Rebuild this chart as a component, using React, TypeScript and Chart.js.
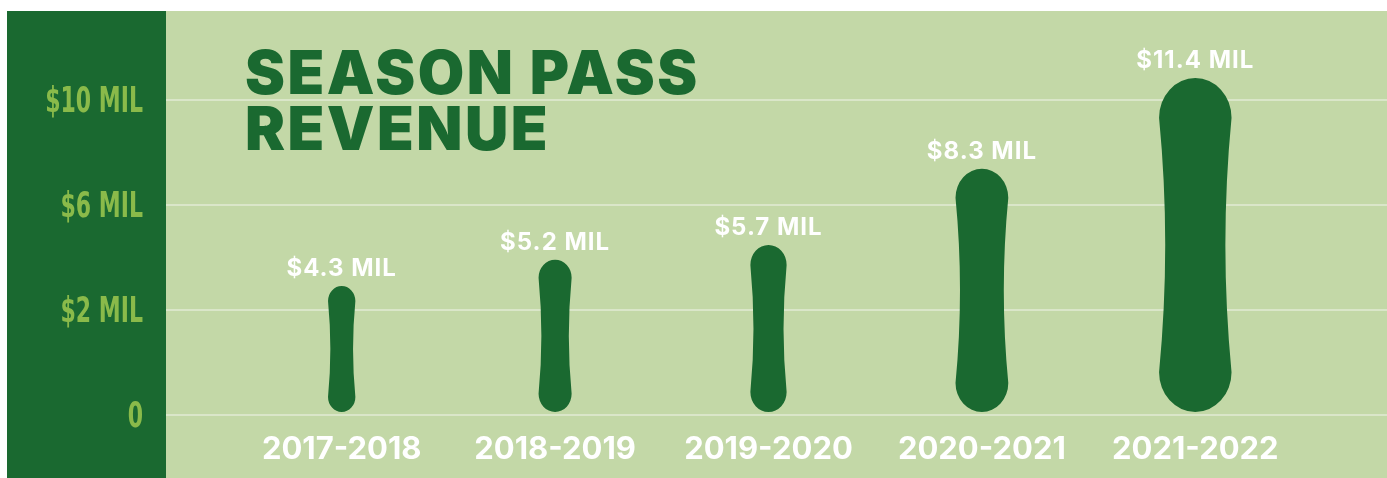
import React, { useEffect, useRef } from "react";
import { Chart, registerables } from "chart.js";

Chart.register(...registerables);

const SEASONS = ["2017-2018", "2018-2019", "2019-2020", "2020-2021", "2021-2022"];
const REVENUE_MIL = [4.3, 5.2, 5.7, 8.3, 11.4];
const TICK_VALUES = [0, 1, 2, 3];
const TICK_LABELS = ["0", "$2 MIL", "$6 MIL", "$10 MIL"];
const TITLE_LINES = ["SEASON PASS", "REVENUE"];

const DARK = "#1a6930";
const LIGHT = "#c3d8a7";
const GRID = "#dae6c9";
const TICK_COLOR = "#8aba4a";
const PANEL_W = 159;

const decorPlugin = {
  id: "decor",
  beforeDraw(chart: any) {
    const { ctx, width, height } = chart;
    ctx.save();
    ctx.fillStyle = LIGHT;
    ctx.fillRect(0, 0, width, height);
    ctx.fillStyle = DARK;
    ctx.fillRect(0, 0, PANEL_W, height);
    const ys = chart.scales.y;
    // grid lines across the light area
    ctx.strokeStyle = GRID;
    ctx.lineWidth = 2;
    TICK_VALUES.forEach((v) => {
      const py = Math.round(ys.getPixelForValue(v));
      ctx.beginPath();
      ctx.moveTo(PANEL_W, py);
      ctx.lineTo(width, py);
      ctx.stroke();
    });
    // condensed y tick labels
    ctx.fillStyle = TICK_COLOR;
    ctx.font = "bold 36px 'DejaVu Sans Condensed', 'Liberation Sans Narrow', sans-serif";
    ctx.textAlign = "right";
    ctx.textBaseline = "middle";
    TICK_VALUES.forEach((v, i) => {
      const py = ys.getPixelForValue(v) + 3;
      const label = TICK_LABELS[i];
      // condense to the narrow look of the original face
      const sx = 0.68;
      ctx.save();
      ctx.translate(136, py);
      ctx.scale(sx, 1);
      ctx.fillText(label, 0, 0);
      ctx.restore();
    });
    // title
    ctx.fillStyle = DARK;
    ctx.font = "900 60px Inter, 'Open Sans', sans-serif";
    (ctx as any).letterSpacing = "2.5px";
    ctx.textAlign = "left";
    ctx.textBaseline = "alphabetic";
    ctx.fillText(TITLE_LINES[0], 238, 83);
    ctx.fillText(TITLE_LINES[1], 238, 139);
    (ctx as any).letterSpacing = "0px";
    ctx.restore();
  },
  afterDatasetsDraw(chart: any) {
    const { ctx } = chart;
    const meta = chart.getDatasetMeta(0);
    ctx.save();
    meta.data.forEach((el: any, i: number) => {
      const x = el.x;
      const top = el.y;
      const base = el.base;
      const h = base - top;
      const w = 0.217 * h;
      const c = 0.55 * w;
      const inset = 0.085 * w;
      const mid = (top + base) / 2;
      ctx.fillStyle = DARK;
      ctx.beginPath();
      ctx.moveTo(x - w / 2, top + c);
      ctx.ellipse(x, top + c, w / 2, c, 0, Math.PI, 2 * Math.PI);
      ctx.quadraticCurveTo(x + w / 2 - 2 * inset, mid, x + w / 2, base - c);
      ctx.ellipse(x, base - c, w / 2, c, 0, 0, Math.PI);
      ctx.quadraticCurveTo(x - w / 2 + 2 * inset, mid, x - w / 2, top + c);
      ctx.closePath();
      ctx.fill();
      // value label
      ctx.fillStyle = "#ffffff";
      ctx.font = "bold 24px Inter, 'Open Sans', sans-serif";
      (ctx as any).letterSpacing = "1px";
      ctx.textAlign = "center";
      ctx.textBaseline = "alphabetic";
      ctx.fillText(`$${REVENUE_MIL[i]} MIL`, x, top - 10);
      (ctx as any).letterSpacing = "0px";
    });
    ctx.restore();
  },
};

export default function App() {
  const ref = useRef<HTMLCanvasElement | null>(null);
  useEffect(() => {
    if (!ref.current) return;
    const chart = new Chart(ref.current, {
      type: "bar",
      data: {
        labels: SEASONS,
        datasets: [
          {
            data: REVENUE_MIL,
            yAxisID: "yv",
            backgroundColor: "rgba(0,0,0,0)",
            borderWidth: 0,
            categoryPercentage: 0.5,
            barPercentage: 1,
          },
        ],
      },
      options: {
        animation: false,
        responsive: true,
        maintainAspectRatio: false,
        layout: { padding: { top: 0, right: 85, bottom: 0, left: 0 } },
        plugins: { legend: { display: false }, tooltip: { enabled: false }, title: { display: false } },
        scales: {
          x: {
            type: "category",
            grid: { display: false, drawTicks: false },
            border: { display: false },
            ticks: {
              color: "#ffffff",
              font: { family: "Inter, 'Open Sans', sans-serif", size: 31, weight: "bold" },
              padding: 16,
              maxRotation: 0,
              autoSkip: false,
            },
            afterFit: (s: any) => {
              s.height = 63;
              s.paddingLeft = 0;
              s.paddingRight = 0;
            },
          },
          y: {
            type: "linear",
            position: "left",
            min: 0,
            max: 404 / 105,
            grid: { display: false, drawTicks: false },
            border: { display: false },
            afterBuildTicks: (s: any) => {
              s.ticks = TICK_VALUES.map((v) => ({ value: v }));
            },
            ticks: { display: false },
            afterFit: (s: any) => {
              s.width = 228;
              s.paddingTop = 0;
              s.paddingBottom = 0;
            },
          },
          yv: {
            type: "linear",
            display: false,
            min: -3 / 29.3,
            max: 401 / 29.3,
          },
        },
      },
      plugins: [decorPlugin],
    });
    return () => chart.destroy();
  }, []);
  return (
    <div style={{ position: "fixed", left: 7, top: 11, width: 1380, height: 467 }}>
      <canvas ref={ref} />
    </div>
  );
}
